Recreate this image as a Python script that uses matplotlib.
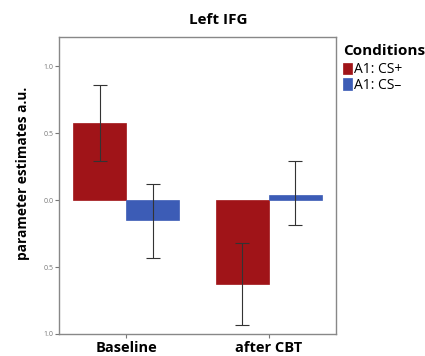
import matplotlib
matplotlib.use("Agg")
import matplotlib.pyplot as plt
import numpy as np

plt.rcParams['font.family'] = ['Open Sans', 'DejaVu Sans']

groups = ["Baseline", "after CBT"]
series = ["A1: CS+", "A1: CS\u2013"]
means_csplus = [0.575, -0.625]
means_csminus = [-0.15, 0.04]
err_lo_csplus = [0.29, -0.93]
err_hi_csplus = [0.86, -0.32]
err_lo_csminus = [-0.43, -0.19]
err_hi_csminus = [0.12, 0.29]
ytick_vals = [1.0, 0.5, 0.0, -0.5, -1.0]
ytick_labels = ["1.0", "0.5", "0.0", "0.5", "1.0"]
colors = ["#a01418", "#3c5cb6"]

fig = plt.figure(figsize=(4.25, 3.56), dpi=100)
ax = fig.add_axes([59/425, 1-334/356, (336-59)/425, (334-37)/356])

x = np.arange(len(groups))
w = 0.37
for i, (m, lo, hi) in enumerate([(means_csplus, err_lo_csplus, err_hi_csplus),
                                  (means_csminus, err_lo_csminus, err_hi_csminus)]):
    pos = x + (i - 0.5) * w
    ax.bar(pos, m, width=w, color=colors[i], edgecolor=colors[i], linewidth=0.5,
           label=series[i], zorder=2)
    m = np.array(m); lo = np.array(lo); hi = np.array(hi)
    ax.errorbar(pos, m, yerr=[m - lo, hi - m], fmt='none', ecolor='#333333',
                elinewidth=0.8, capsize=5, capthick=0.8, zorder=3)

ax.set_xlim(-0.47, 1.47)
ax.set_ylim(-1.0, 1.217)
ax.set_yticks(ytick_vals)
ax.set_yticklabels(ytick_labels, fontsize=5, color='#777777')
ax.set_xticks(x)
ax.set_xticklabels(groups, fontsize=10.5, fontweight='bold')
ax.tick_params(axis='y', length=3, width=0.8, color='#777777', pad=1)
ax.tick_params(axis='x', length=3, width=0.8, color='#777777', pad=2)
for s in ax.spines.values():
    s.set_color('#888888')
    s.set_linewidth(1.0)

ax.set_ylabel("parameter estimates a.u.", fontsize=9.8, fontweight='bold')
ax.yaxis.set_label_coords(-0.105, 0.54)
fig.text(218/425, 1-20/356, "Left IFG", fontsize=11, fontweight='bold',
         ha='center', va='center')

leg = ax.legend(title="Conditions", loc='upper left', bbox_to_anchor=(1.0, 1.0),
                frameon=False, fontsize=10, handlelength=0.65, handleheight=0.85,
                handletextpad=0.15, labelspacing=0.05, borderaxespad=0.1,
                title_fontproperties={'weight': 'bold', 'size': 11})
leg._legend_box.align = "left"
leg._legend_box.sep = 3

fig.savefig("out.png", dpi=100)
